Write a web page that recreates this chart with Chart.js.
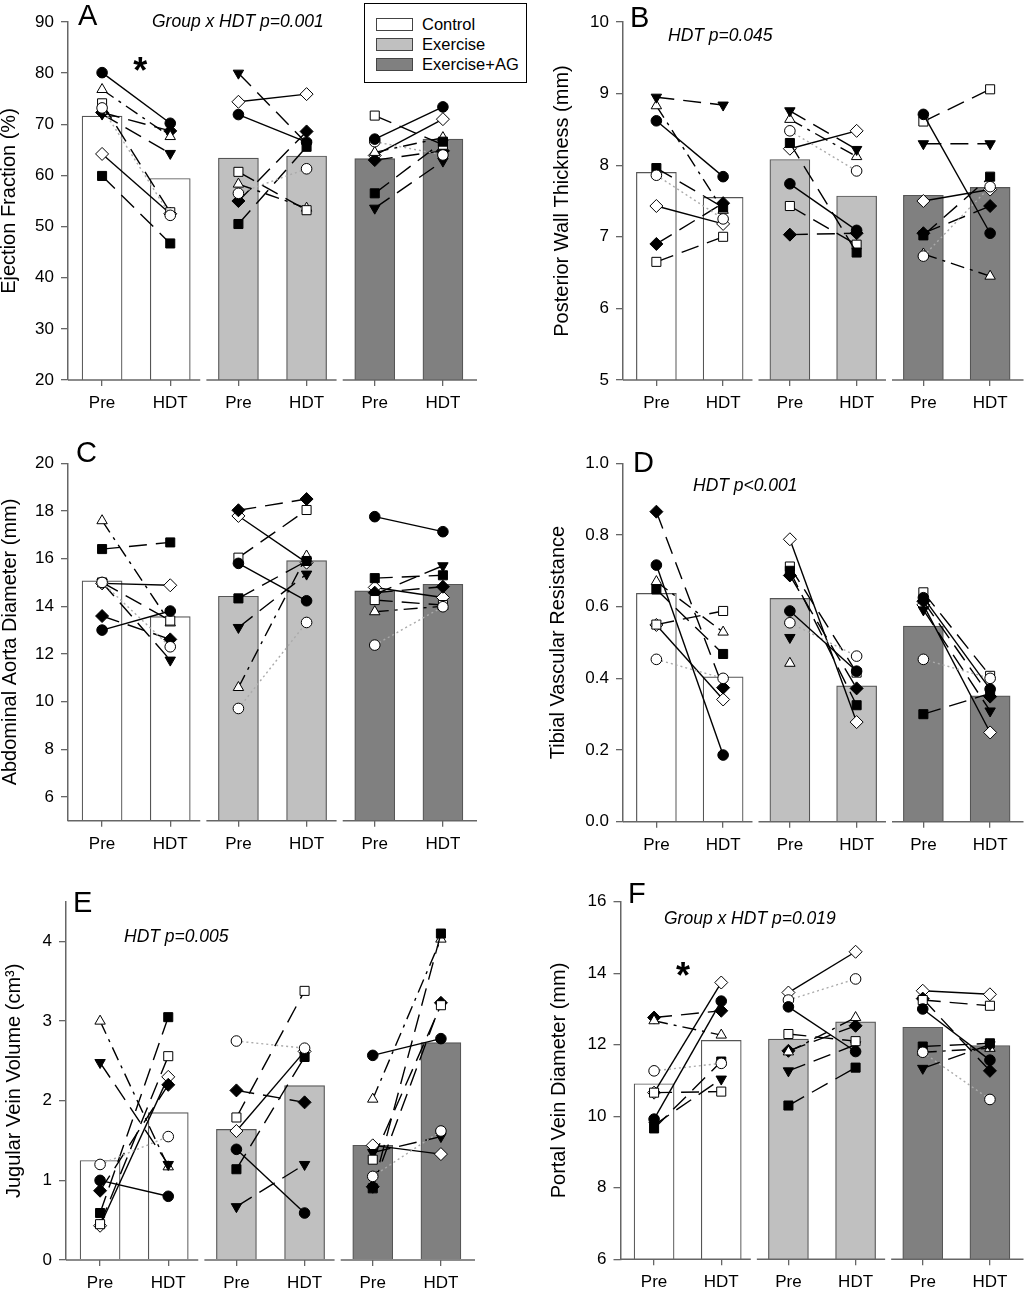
<!DOCTYPE html>
<html>
<head>
<meta charset="utf-8">
<script src="https://cdn.jsdelivr.net/npm/chart.js@4.4.1/dist/chart.umd.min.js"></script>
<style>
  body { margin: 0; background: #fff; width: 1031px; height: 1289px; position: relative; overflow: hidden;
         font-family: "Liberation Sans", Arial, sans-serif; color: #000; }
  canvas { position: absolute; }
  .letter { position: absolute; line-height: 1; font-size: 29px; }
  .note { position: absolute; line-height: 1; font-size: 17.5px; font-style: italic; white-space: nowrap; }
  #legend { position: absolute; left: 364px; top: 3px; width: 161px; height: 78px; border: 1.5px solid #000; background: #fff; }
  #legend .sw { position: absolute; left: 11px; width: 35px; height: 11px; border: 1px solid #444; }
  #legend .tx { position: absolute; left: 57px; font-size: 16.5px; line-height: 1; white-space: nowrap; }
</style>
</head>
<body>
<canvas id="cA" width="515" height="430" style="left:0;top:0"></canvas>
<canvas id="cB" width="516" height="430" style="left:515px;top:0"></canvas>
<canvas id="cC" width="515" height="430" style="left:0;top:430px"></canvas>
<canvas id="cD" width="516" height="430" style="left:515px;top:430px"></canvas>
<canvas id="cE" width="515" height="429" style="left:0;top:860px"></canvas>
<canvas id="cF" width="516" height="429" style="left:515px;top:860px"></canvas>

<div class="letter" style="left:78px;top:1px">A</div>
<div class="letter" style="left:630px;top:3px">B</div>
<div class="letter" style="left:76px;top:438px">C</div>
<div class="letter" style="left:633px;top:448px">D</div>
<div class="letter" style="left:73px;top:888px">E</div>
<div class="letter" style="left:628px;top:879px">F</div>

<div class="note" style="left:152px;top:13px">Group x HDT p=0.001</div>
<div class="note" style="left:668px;top:27px">HDT p=0.045</div>
<div class="note" style="left:693px;top:477px">HDT p&lt;0.001</div>
<div class="note" style="left:124px;top:928px">HDT p=0.005</div>
<div class="note" style="left:664px;top:910px">Group x HDT p=0.019</div>

<div id="legend"></div>

<script>
// ---- categories / ticks ----
const xTicks = [1, 2, 3, 4, 5, 6];
const xLabels = ['Pre', 'HDT', 'Pre', 'HDT', 'Pre', 'HDT'];
const groupNames = ['Control', 'Exercise', 'Exercise+AG'];
const groupColors = ['#ffffff', '#c0c0c0', '#808080'];
// subject rows: filled circle, open circle, filled square, open square,
// filled triangle down, open triangle up, filled diamond, open diamond
const subjectKeys = ['fc', 'oc', 'fs', 'os', 'ftd', 'otu', 'fd', 'od'];

// ---- A: ejection fraction ----
const efTicks = [20, 30, 40, 50, 60, 70, 80, 90];
const efBars = [71.6, 59.4, 63.4, 63.8, 63.3, 67.1];
const efSubj = [
  [80.1, 70.2, 71.9, 66.5, 67.1, 73.4],
  [73.2, 52.2, 56.5, 61.3, 66.6, 64.0],
  [59.9, 46.7, 50.5, 65.6, 56.5, 66.6],
  [74.1, 52.8, 60.7, 53.2, 71.7, 66.0],
  [72.0, 64.3, 80.0, 66.3, 53.6, 62.8],
  [76.8, 67.6, 58.3, 53.6, 64.5, 67.4],
  [72.3, 68.7, 55.0, 68.6, 63.0, 64.8],
  [64.2, 52.5, 74.4, 75.9, 63.9, 71.0]
];
const efStar = [{ x: 1.56, y: 82.2 }];

// ---- B: posterior wall thickness ----
const pwtTicks = [5, 6, 7, 8, 9, 10];
const pwtBars = [7.90, 7.55, 8.08, 7.57, 7.58, 7.69];
const pwtSubj = [
  [8.62, 7.84, 7.74, 7.09, 8.71, 7.05],
  [7.86, 7.25, 8.48, 7.92, 6.73, 7.70],
  [7.96, 7.41, 8.31, 6.78, 7.02, 7.84],
  [6.65, 7.00, 7.43, 6.89, 8.61, 9.06],
  [8.95, 8.84, 8.76, 8.22, 8.30, 8.30],
  [8.83, 7.37, 8.64, 8.12, 6.76, 6.45],
  [6.90, 7.47, 7.03, 7.05, 7.05, 7.43],
  [7.43, 7.18, 8.23, 8.48, 7.50, 7.66]
];

// ---- C: abdominal aorta diameter ----
const aadTicks = [6, 8, 10, 12, 14, 16, 18, 20];
const aadBars = [15.07, 13.57, 14.42, 15.92, 14.65, 14.92];
const aadSubj = [
  [13.00, 13.80, 15.80, 14.23, 17.76, 17.13],
  [15.00, 12.30, 9.71, 13.32, 12.37, 13.98],
  [16.40, 16.68, 14.33, 15.90, 15.18, 15.30],
  [15.00, 13.40, 16.04, 18.04, 14.26, 14.05],
  [15.00, 11.74, 13.11, 15.35, 14.50, 15.70],
  [17.59, 13.30, 10.59, 16.11, 13.77, 14.00],
  [13.59, 12.61, 18.03, 18.50, 14.57, 14.82],
  [14.96, 14.88, 17.79, 15.83, 14.79, 14.37]
];

// ---- D: tibial vascular resistance ----
const tvrTicks = [0, 0.2, 0.4, 0.6, 0.8, 1.0];
const tvrBars = [0.637, 0.404, 0.623, 0.379, 0.546, 0.351];
const tvrSubj = [
  [0.716, 0.186, 0.588, 0.420, 0.625, 0.370],
  [0.453, 0.400, 0.555, 0.462, 0.453, 0.400],
  [0.648, 0.468, 0.700, 0.325, 0.300, 0.358],
  [0.550, 0.588, 0.712, 0.416, 0.640, 0.407],
  [null, null, 0.514, null, 0.591, 0.309],
  [0.670, 0.529, 0.442, null, null, null],
  [0.865, 0.374, 0.687, 0.372, 0.615, 0.349],
  [0.549, 0.341, 0.788, 0.278, 0.605, 0.249]
];

// ---- E: jugular vein volume ----
const jvvTicks = [0, 1, 2, 3, 4];
const jvvBars = [1.25, 1.85, 1.64, 2.19, 1.44, 2.73];
const jvvSubj = [
  [1.00, 0.80, 1.39, 0.59, 2.57, 2.78],
  [1.20, 1.55, 2.75, 2.66, 1.05, 1.62],
  [0.59, 3.05, 1.14, 2.55, 0.90, 4.10],
  [0.45, 2.56, 1.79, 3.38, 1.26, 3.20],
  [2.48, 1.20, 0.67, 1.20, 1.35, 1.55],
  [3.00, 1.17, null, null, 2.02, 4.03],
  [0.87, 2.20, 2.13, 1.98, 0.92, 3.23],
  [0.43, 2.30, 1.62, 2.62, 1.44, 1.33]
];

// ---- F: portal vein diameter ----
const pvdTicks = [6, 8, 10, 12, 14, 16];
const pvdBars = [10.91, 12.12, 12.16, 12.64, 12.49, 11.98];
const pvdSubj = [
  [9.92, 13.22, 13.06, 11.81, 13.00, 11.57],
  [11.27, 11.48, 13.25, 13.84, 11.79, 10.47],
  [9.66, 11.53, 10.30, 11.36, 11.95, 12.04],
  [10.66, 10.69, 12.30, 12.10, 13.25, 13.09],
  [9.75, 11.04, 11.27, 12.00, 11.34, 12.00],
  [12.67, 12.27, 11.80, 12.76, 11.79, 11.90],
  [12.76, 12.95, 11.83, 12.53, 13.29, 11.27],
  [10.66, 13.74, 13.46, 14.60, 13.51, 13.41]
];
const pvdStar = [{ x: 1.43, y: 14.17 }];

// marker + line look per subject
const markers = {
  fc:  { style: 'circle',   r: 5.3, rot: 0,   fill: '#000', line: '#000', dash: [] },
  oc:  { style: 'circle',   r: 5.3, rot: 0,   fill: '#fff', line: '#aaa', dash: [2, 3] },
  fs:  { style: 'rect',     r: 6.4, rot: 0,   fill: '#000', line: '#000', dash: [18, 9] },
  os:  { style: 'rect',     r: 6.4, rot: 0,   fill: '#fff', line: '#000', dash: [18, 9] },
  ftd: { style: 'triangle', r: 6,   rot: 180, fill: '#000', line: '#000', dash: [18, 9] },
  otu: { style: 'triangle', r: 6,   rot: 0,   fill: '#fff', line: '#000', dash: [14, 6, 3, 6] },
  fd:  { style: 'rectRot',  r: 6.5, rot: 0,   fill: '#000', line: '#000', dash: [18, 9] },
  od:  { style: 'rectRot',  r: 6.5, rot: 0,   fill: '#fff', line: '#000', dash: [] }
};

// x axis is drawn in three pieces, one per group
const axisPieces = [[0.5, 2.44], [2.53, 4.44], [4.53, 6.5]];

Chart.defaults.font.family = '"Liberation Sans", Arial, sans-serif';
Chart.defaults.color = '#000';

const brokenAxis = {
  id: 'brokenAxis',
  afterDatasetsDraw(chart) {
    const ctx = chart.ctx, xs = chart.scales.x, yb = chart.chartArea.bottom;
    ctx.save();
    ctx.strokeStyle = '#666';
    ctx.lineWidth = 1.5;
    axisPieces.forEach(p => {
      ctx.beginPath();
      ctx.moveTo(xs.getPixelForValue(p[0]), yb);
      ctx.lineTo(xs.getPixelForValue(p[1]), yb);
      ctx.stroke();
    });
    const stars = chart.options.plugins.brokenAxis.stars || [];
    ctx.fillStyle = '#000';
    ctx.font = 'bold 36px "Liberation Sans", Arial, sans-serif';
    ctx.textAlign = 'center';
    ctx.textBaseline = 'alphabetic';
    stars.forEach(s => {
      ctx.fillText('*', xs.getPixelForValue(s.x), chart.scales.y.getPixelForValue(s.y) + 21);
    });
    ctx.restore();
  }
};

function subjectSets(rows) {
  const sets = [];
  rows.forEach((vals, i) => {
    const m = markers[subjectKeys[i]];
    for (let g = 0; g < 3; g++) {
      sets.push({
        type: 'line',
        data: [{ x: xTicks[2 * g], y: vals[2 * g] }, { x: xTicks[2 * g + 1], y: vals[2 * g + 1] }],
        borderColor: m.line,
        borderDash: m.dash,
        borderWidth: 1.4,
        pointStyle: m.style,
        pointRadius: m.r,
        pointRotation: m.rot,
        pointBackgroundColor: m.fill,
        pointBorderColor: '#000',
        pointBorderWidth: 1,
        fill: false,
        tension: 0,
        order: 1
      });
    }
  });
  return sets;
}

function makePanel(id, geo, bars, rows, yTicks, yMin, yMax, title, fmt, stars) {
  const canvas = document.getElementById(id);
  const W = canvas.width, H = canvas.height;
  new Chart(canvas, {
    type: 'bar',
    data: {
      datasets: [{
        type: 'bar',
        data: bars.map((v, j) => ({ x: xTicks[j], y: v })),
        backgroundColor: bars.map((v, j) => groupColors[Math.floor(j / 2)]),
        borderColor: '#555',
        borderWidth: 1.2,
        barThickness: 40,
        order: 10
      }].concat(subjectSets(rows))
    },
    options: {
      responsive: false,
      animation: false,
      events: [],
      layout: { padding: { left: 0, top: geo.t, right: W - geo.r, bottom: 0 } },
      plugins: { legend: { display: false }, tooltip: { enabled: false }, brokenAxis: { stars: stars } },
      scales: {
        x: {
          type: 'linear', min: 0.5, max: 6.5, offset: false,
          afterBuildTicks: s => { s.ticks = xTicks.map(v => ({ value: v })); },
          afterFit: s => { s.height = H - geo.b; },
          ticks: { callback: (v, i) => xLabels[i], font: { size: 17 }, padding: 7, autoSkip: false, maxRotation: 0, color: '#000' },
          grid: { drawOnChartArea: false, tickLength: 6, color: '#666', lineWidth: 1.3, offset: false },
          border: { display: false }
        },
        y: {
          type: 'linear', min: yMin, max: yMax,
          afterBuildTicks: s => { s.ticks = yTicks.map(v => ({ value: v })); },
          afterFit: s => { s.width = geo.l; },
          ticks: { callback: fmt, font: { size: 17 }, padding: 7, color: '#000' },
          grid: { drawOnChartArea: false, tickLength: 7, color: '#666', lineWidth: 1.3 },
          border: { color: '#666', width: 1.5 },
          title: { display: true, text: title, font: { size: 20, lineHeight: 1 }, padding: { top: geo.tp, bottom: 0 }, color: '#000' }
        }
      }
    },
    plugins: [brokenAxis]
  });
}

const intFmt = v => String(v);
const oneDec = v => v.toFixed(1);

makePanel('cA', { l: 68, r: 477, t: 22, b: 380, tp: -1 }, efBars, efSubj, efTicks, 20, 90, 'Ejection Fraction (%)', intFmt, efStar);
makePanel('cB', { l: 108, r: 516, t: 22, b: 380, tp: 37 }, pwtBars, pwtSubj, pwtTicks, 5, 10, 'Posterior Wall Thickness (mm)', intFmt, []);
makePanel('cC', { l: 68, r: 477, t: 33.3, b: 390.7, tp: 0 }, aadBars, aadSubj, aadTicks, 5, 20, 'Abdominal Aorta Diameter (mm)', intFmt, []);
makePanel('cD', { l: 108, r: 516, t: 33.3, b: 391.7, tp: 33 }, tvrBars, tvrSubj, tvrTicks, 0, 1.0, 'Tibial Vascular Resistance', oneDec, []);
makePanel('cE', { l: 66, r: 475, t: 41.7, b: 400, tp: 4.7 }, jvvBars, jvvSubj, jvvTicks, 0, 4.5, 'Jugular Vein Volume (cm\u00B3)', intFmt, []);
makePanel('cF', { l: 105.5, r: 514.5, t: 41.7, b: 399.3, tp: 34.7 }, pvdBars, pvdSubj, pvdTicks, 6, 16, 'Portal Vein Diameter (mm)', intFmt, pvdStar);

// legend box
const legend = document.getElementById('legend');
groupNames.forEach((name, i) => {
  const sw = document.createElement('div');
  sw.className = 'sw';
  sw.style.top = (14 + 20 * i) + 'px';
  sw.style.background = groupColors[i];
  legend.appendChild(sw);
  const tx = document.createElement('div');
  tx.className = 'tx';
  tx.style.top = (12 + 20 * i) + 'px';
  tx.textContent = name;
  legend.appendChild(tx);
});
</script>
</body>
</html>
